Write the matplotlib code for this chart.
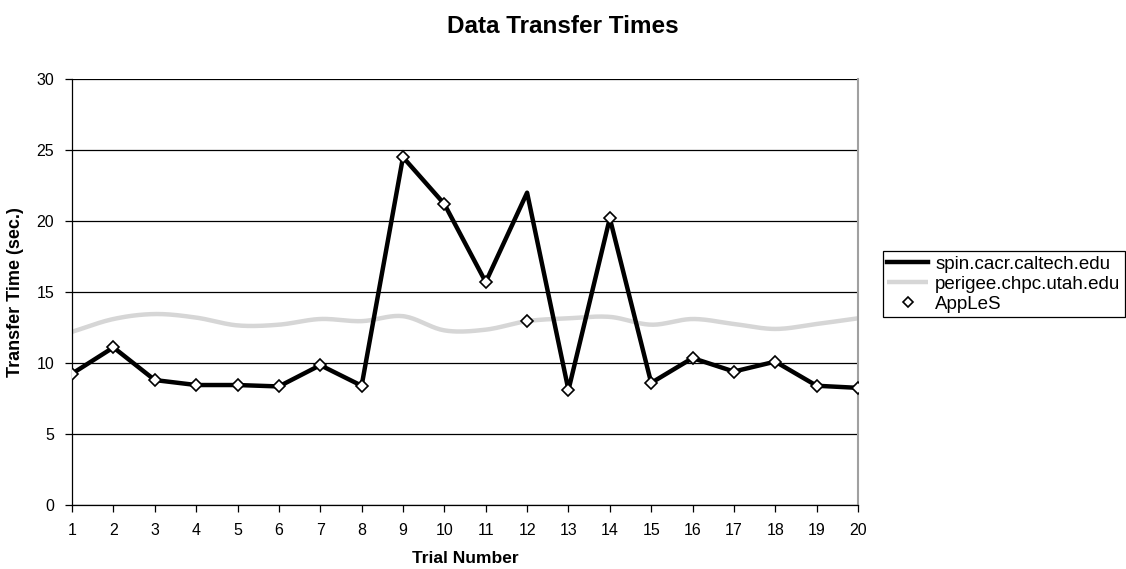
import matplotlib
matplotlib.use("Agg")
import matplotlib.pyplot as plt
import numpy as np

plt.rcParams["font.family"] = ["Liberation Sans", "DejaVu Sans"]

trials = list(range(1, 21))
spin = [9.25, 11.1, 8.8, 8.45, 8.45, 8.35, 9.85, 8.4, 24.5, 21.2,
        15.7, 22.0, 8.1, 20.2, 8.6, 10.35, 9.4, 10.1, 8.4, 8.25]
perigee = [12.2, 13.1, 13.45, 13.2, 12.65, 12.7, 13.1, 12.95, 13.3, 12.3,
           12.35, 12.95, 13.15, 13.25, 12.7, 13.1, 12.75, 12.4, 12.75, 13.15]
# AppLeS picks spin every time except trial 12, where it used perigee
apples = [9.25, 11.1, 8.8, 8.45, 8.45, 8.35, 9.85, 8.4, 24.5, 21.2,
          15.7, 12.98, 8.1, 20.2, 8.6, 10.35, 9.4, 10.1, 8.4, 8.25]


def smooth(x, y, n=20):
    # Catmull-Rom curve through the points, like Excel's "smoothed line"
    x = np.asarray(x, float); y = np.asarray(y, float)
    px = np.concatenate([[2 * x[0] - x[1]], x, [2 * x[-1] - x[-2]]])
    py = np.concatenate([[2 * y[0] - y[1]], y, [2 * y[-1] - y[-2]]])
    t = np.linspace(0, 1, n, endpoint=False)[:, None]
    def seg(p):
        p0, p1, p2, p3 = p[:-3], p[1:-2], p[2:-1], p[3:]
        return 0.5 * (2 * p1 + (-p0 + p2) * t + (2 * p0 - 5 * p1 + 4 * p2 - p3) * t ** 2
                      + (-p0 + 3 * p1 - 3 * p2 + p3) * t ** 3)
    xs = np.append(seg(px).T.ravel(), x[-1])
    ys = np.append(seg(py).T.ravel(), y[-1])
    return xs, ys


fig = plt.figure(figsize=(11.26, 5.69), dpi=100)
ax = fig.add_axes([0.064, 0.1125, 0.698, 0.7485])

sx, sy = smooth(trials, perigee)
l2, = ax.plot(sx, sy, color="#d6d6d6", lw=3.2, solid_capstyle="butt", zorder=2,
              label="perigee.chpc.utah.edu")
l1, = ax.plot(trials, spin, color="black", lw=3.2, zorder=3, label="spin.cacr.caltech.edu")
l3, = ax.plot(trials, apples, ls="none", marker="D", ms=6, mfc="white", mec="black",
              mew=1.2, zorder=4, label="AppLeS")

ax.set_xlim(1, 20)
ax.set_ylim(0, 30)
ax.set_xticks(trials)
ax.set_yticks(range(0, 31, 5))
ax.yaxis.grid(True, color="black", lw=0.9)
ax.set_axisbelow(True)
ax.tick_params(axis="both", direction="out", length=5, width=0.9, labelsize=11.5, pad=8)
ax.spines["top"].set_visible(False)
ax.spines["right"].set_color("#a0a0a0")
ax.spines["right"].set_linewidth(1.5)
for s in ("left", "bottom"):
    ax.spines[s].set_linewidth(0.9)

ax.set_xlabel("Trial Number", fontsize=12.5, fontweight="bold", labelpad=9)
ax.set_ylabel("Transfer Time (sec.)", fontsize=13, fontweight="bold", labelpad=9)
fig.text(0.5, 0.953, "Data Transfer Times", ha="center", va="center",
         fontsize=17.5, fontweight="bold")

leg = fig.legend(handles=[l1, l2, l3], loc="upper left", bbox_to_anchor=(0.784, 0.559),
                 frameon=True, fancybox=False, framealpha=1, edgecolor="black",
                 fontsize=13.5, handlelength=2.15, handletextpad=0.4, borderpad=0.25,
                 labelspacing=0.15, borderaxespad=0, markerscale=0.8)
leg.get_frame().set_linewidth(0.9)

fig.savefig("out.png", dpi=100)
